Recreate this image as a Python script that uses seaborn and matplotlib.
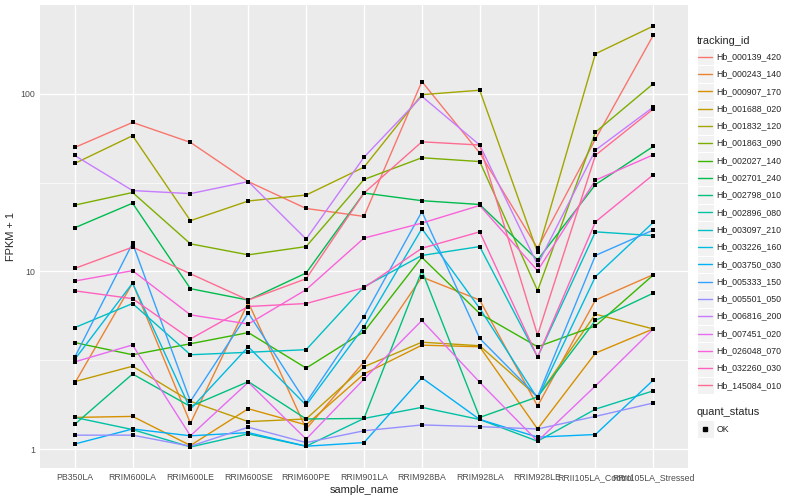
import numpy as np
import pandas as pd
import matplotlib
matplotlib.use('Agg')
import matplotlib.pyplot as plt
from matplotlib.patches import Rectangle
from matplotlib.lines import Line2D
import seaborn as sns

# x categories
samples = ['PB350LA', 'RRIM600LA', 'RRIM600LE', 'RRIM600SE', 'RRIM600PE', 'RRIM901LA',
           'RRIM928BA', 'RRIM928LA', 'RRIM928LE', 'RRII105LA_Control', 'RRII105LA_Stressed']

# FPKM + 1 per gene
hb_000139_420 = [49.8, 68.9, 53.2, 32.0, 22.6, 20.4, 117.0, 46.4, 13.5, 55.5, 213.0]
hb_000243_140 = [2.35, 8.6, 1.40, 6.7, 1.30, 3.1, 9.3, 6.9, 1.75, 6.9, 9.6]
hb_000907_170 = [1.51, 1.53, 1.05, 1.69, 1.37, 2.65, 3.85, 3.77, 1.30, 3.47, 4.75]
hb_001688_020 = [2.4, 2.93, 1.86, 1.43, 1.48, 2.91, 4.0, 3.82, 1.97, 5.75, 4.75]
hb_001832_120 = [40.5, 58.0, 19.3, 24.9, 26.9, 38.6, 98.7, 104.5, 12.8, 167.5, 240.0]
hb_001863_090 = [23.6, 27.8, 14.3, 12.4, 13.8, 32.9, 43.6, 41.5, 7.8, 60.7, 113.8]
hb_002027_140 = [3.98, 3.4, 3.92, 4.53, 2.86, 4.58, 12.0, 5.8, 3.77, 4.94, 9.55]
hb_002701_240 = [17.6, 24.2, 8.0, 6.9, 9.8, 27.6, 25.0, 23.8, 11.6, 30.8, 50.5]
hb_002798_010 = [1.38, 2.65, 1.74, 2.4, 1.48, 1.49, 10.1, 1.51, 1.97, 5.3, 7.55]
hb_002896_080 = [1.51, 1.29, 1.03, 1.22, 1.04, 1.49, 1.72, 1.47, 1.11, 1.68, 2.13]
hb_003097_210 = [4.83, 6.6, 3.4, 3.51, 3.63, 8.2, 12.3, 13.8, 3.3, 16.7, 15.9]
hb_003226_160 = [3.2, 8.6, 1.68, 3.77, 1.77, 4.89, 17.4, 6.2, 1.93, 9.35, 18.9]
hb_003750_030 = [1.07, 1.30, 1.19, 1.24, 1.04, 1.09, 2.52, 1.47, 1.17, 1.21, 2.45]
hb_005333_150 = [3.29, 14.4, 1.86, 5.84, 1.83, 5.57, 21.7, 4.2, 1.97, 12.3, 17.1]
hb_005501_050 = [1.2, 1.2, 1.04, 1.33, 1.09, 1.27, 1.37, 1.34, 1.30, 1.53, 1.82]
hb_006816_200 = [44.9, 28.5, 27.4, 32.0, 15.2, 43.9, 96.6, 51.4, 10.9, 48.1, 84.0]
hb_007451_020 = [3.1, 3.86, 1.19, 2.38, 1.14, 2.48, 5.3, 2.38, 1.11, 2.27, 4.75]
hb_026048_070 = [8.83, 10.1, 5.7, 5.06, 7.9, 15.4, 18.7, 23.5, 10.1, 32.6, 45.3]
hb_032260_030 = [7.78, 7.03, 4.17, 6.35, 6.6, 8.1, 13.5, 16.7, 3.3, 19.0, 35.0]
hb_145084_010 = [10.4, 13.7, 9.7, 6.9, 9.1, 27.6, 53.6, 51.4, 4.39, 45.0, 82.0]

series = {
    'Hb_000139_420': hb_000139_420, 'Hb_000243_140': hb_000243_140,
    'Hb_000907_170': hb_000907_170, 'Hb_001688_020': hb_001688_020,
    'Hb_001832_120': hb_001832_120, 'Hb_001863_090': hb_001863_090,
    'Hb_002027_140': hb_002027_140, 'Hb_002701_240': hb_002701_240,
    'Hb_002798_010': hb_002798_010, 'Hb_002896_080': hb_002896_080,
    'Hb_003097_210': hb_003097_210, 'Hb_003226_160': hb_003226_160,
    'Hb_003750_030': hb_003750_030, 'Hb_005333_150': hb_005333_150,
    'Hb_005501_050': hb_005501_050, 'Hb_006816_200': hb_006816_200,
    'Hb_007451_020': hb_007451_020, 'Hb_026048_070': hb_026048_070,
    'Hb_032260_030': hb_032260_030, 'Hb_145084_010': hb_145084_010,
}

# ggplot2 hue palette for 20 levels
colors = ['#F8766D', '#EA8331', '#D89000', '#C09B00', '#A3A500', '#7CAE00', '#39B600',
          '#00BB4E', '#00BF7D', '#00C1A3', '#00BFC4', '#00BAE0', '#00B0F6', '#35A2FF',
          '#9590FF', '#C77CFF', '#E76BF3', '#FA62DB', '#FF62BC', '#FF6C91']

ids = list(series.keys())
rows = []
for tid in ids:
    for s, v in zip(samples, series[tid]):
        rows.append({'tracking_id': tid, 'sample_name': s, 'value': v, 'quant_status': 'OK'})
df = pd.DataFrame(rows)

sns.set_style('white')
plt.rcParams['font.family'] = ['Liberation Sans', 'DejaVu Sans']

W, H = 800, 500
fig = plt.figure(figsize=(8, 5), dpi=100)
left, right, top, bottom = 40, 688, 5, 468
ax = fig.add_axes([left / W, 1 - bottom / H, (right - left) / W, (bottom - top) / H])
ax.set_facecolor('#EBEBEB')

sns.lineplot(data=df, x='sample_name', y='value', hue='tracking_id', hue_order=ids,
             palette=colors, linewidth=1.0, errorbar=None, sort=False, legend=False, ax=ax)
sns.scatterplot(data=df, x='sample_name', y='value', color='black', marker='s', s=9,
                linewidth=0, legend=False, ax=ax, zorder=3)

ax.set_yscale('log')
lo = np.log10(df['value'].min())
hi = np.log10(df['value'].max())
pad = (hi - lo) * 0.05
ax.set_ylim(10 ** (lo - pad), 10 ** (hi + pad))
ax.set_xlim(-0.6, len(samples) - 0.4)

ax.set_yticks([1, 10, 100])
ax.set_yticklabels(['1', '10', '100'])
ax.set_yticks([10 ** 0.5, 10 ** 1.5], minor=True)
ax.yaxis.set_minor_formatter(matplotlib.ticker.NullFormatter())
ax.set_xticks(range(len(samples)))
ax.set_xticklabels(samples)

ax.grid(which='major', color='white', linewidth=1.0)
ax.grid(which='minor', axis='y', color='white', linewidth=0.5)
ax.set_axisbelow(True)
for sp in ax.spines.values():
    sp.set_visible(False)
ax.tick_params(which='major', length=2.0, width=0.8, color='#333333', labelcolor='#4D4D4D',
               labelsize=6.3, pad=1.5)
ax.tick_params(which='minor', length=0)

ax.set_xlabel('sample_name', fontsize=7.9, labelpad=2)
ax.set_ylabel('FPKM + 1', fontsize=7.9, labelpad=3)


def fx(x):
    return x / W


def fy(y):
    return 1 - y / H


# legend: tracking_id
kx0, kx1 = 696.5, 713.5
fig.text(fx(696.5), fy(40.7), 'tracking_id', fontsize=7.9, va='center', ha='left')
step = 17.3
for i, (tid, c) in enumerate(zip(ids, colors)):
    yc = 56.7 + step * i
    fig.patches.append(Rectangle((fx(kx0), fy(yc + step / 2)), fx(kx1 - kx0), step / H,
                                 transform=fig.transFigure, facecolor='#F2F2F2',
                                 edgecolor='white', linewidth=0.8))
    fig.lines.append(Line2D([fx(kx0 + 1.5), fx(kx1 - 1.5)], [fy(yc), fy(yc)],
                            transform=fig.transFigure, color=c, linewidth=1.0))
    fig.text(fx(716.5), fy(yc), tid, fontsize=6.3, va='center', ha='left')

# legend: quant_status
fig.text(fx(696.5), fy(412), 'quant_status', fontsize=7.9, va='center', ha='left')
yc = 429
fig.patches.append(Rectangle((fx(kx0), fy(yc + step / 2)), fx(kx1 - kx0), step / H,
                             transform=fig.transFigure, facecolor='#F2F2F2',
                             edgecolor='white', linewidth=0.8))
fig.lines.append(Line2D([fx((kx0 + kx1) / 2)], [fy(yc)], transform=fig.transFigure,
                        color='black', marker='s', markersize=3, linestyle='none'))
fig.text(fx(716.5), fy(yc), 'OK', fontsize=6.3, va='center', ha='left')

fig.savefig('out.png', dpi=100, facecolor='white')
